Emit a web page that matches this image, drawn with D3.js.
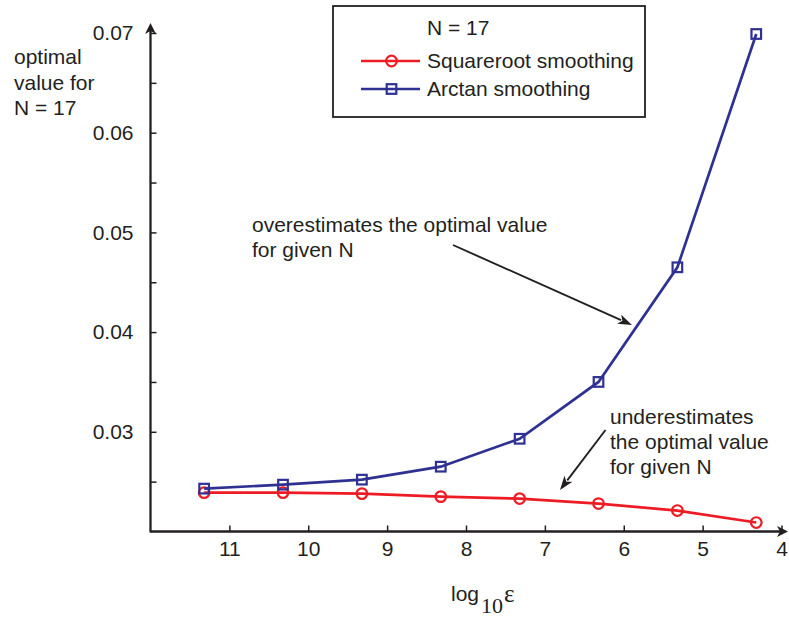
<!DOCTYPE html>
<html>
<head>
<meta charset="utf-8">
<script src="https://cdn.jsdelivr.net/npm/d3@7"></script>
<style>
  html, body { margin: 0; padding: 0; background: #fff; }
  svg { display: block; }
  text { font-family: "Liberation Sans", Arial, Helvetica, sans-serif; fill: #231f20; }
</style>
</head>
<body>
<svg id="chart" width="789" height="620"></svg>
<script>
// ---- data ----
const logEps = [11.32, 10.32, 9.32, 8.32, 7.32, 6.32, 5.32, 4.32];
const squarerootValues = [0.0239, 0.0239, 0.0238, 0.0235, 0.0233, 0.0228, 0.0221, 0.0209];
const arctanValues = [0.0243, 0.0247, 0.0252, 0.0265, 0.0293, 0.0350, 0.0465, 0.0699];
const xTickValues = [11, 10, 9, 8, 7, 6, 5, 4];
const yMajorTicks = [0.03, 0.04, 0.05, 0.06, 0.07];
const yMinorTicks = [0.025, 0.035, 0.045, 0.055, 0.065];
const legendTitle = "N = 17";
const seriesNames = ["Squareroot smoothing", "Arctan smoothing"];
const yLabelLines = ["optimal", "value for", "N = 17"];
const overLines = ["overestimates the optimal value", "for given N"];
const underLines = ["underestimates", "the optimal value", "for given N"];

const RED = "#ed1c24", BLUE = "#2e3192", INK = "#231f20";
const FS = 21;
const svg = d3.select("#chart");

const x = d3.scaleLinear().domain([12, 4]).range([150.5, 781.5]);
const y = d3.scaleLinear().domain([0.02, 0.07]).range([531.5, 33]);

// ---- axes ----
const xAxis = d3.axisBottom(x).tickValues(xTickValues).tickFormat(d3.format("d"))
  .tickSize(-6).tickSizeOuter(0).tickPadding(10);
const gx = svg.append("g").attr("transform", `translate(0,${y(0.02)})`).call(xAxis);
gx.select(".domain").remove();
gx.selectAll(".tick line").attr("stroke", INK).attr("stroke-width", 1.5);
gx.selectAll(".tick text").attr("font-size", FS).attr("fill", INK)
  .attr("font-family", "Liberation Sans, Arial, sans-serif");

const yAxis = d3.axisLeft(y).tickValues(yMajorTicks.concat(yMinorTicks))
  .tickFormat(d => yMajorTicks.includes(d) ? d3.format(".2f")(d) : "")
  .tickSize(-6).tickSizeOuter(0).tickPadding(17);
const gy = svg.append("g").attr("transform", `translate(${x(12)},0)`).call(yAxis);
gy.select(".domain").remove();
gy.selectAll(".tick line").attr("stroke", INK).attr("stroke-width", 1.5);
gy.selectAll(".tick text").attr("font-size", FS).attr("fill", INK)
  .attr("font-family", "Liberation Sans, Arial, sans-serif");

// axis lines with arrowheads
const x0 = x(12), y0 = y(0.02);
const xEnd = 789, yTop = 23;
svg.append("line").attr("x1", x0).attr("y1", y0).attr("x2", xEnd - 4).attr("y2", y0)
  .attr("stroke", INK).attr("stroke-width", 2.3);
svg.append("line").attr("x1", x0).attr("y1", y0 + 1).attr("x2", x0).attr("y2", yTop + 4)
  .attr("stroke", INK).attr("stroke-width", 2.3);
function arrowHead(tx, ty, angle, len, half, notch) {
  const p = `M0,0 L${-len},${-half} L${-notch},0 L${-len},${half} Z`;
  svg.append("path").attr("d", p).attr("fill", INK)
    .attr("transform", `translate(${tx},${ty}) rotate(${angle})`);
}
arrowHead(xEnd - 1, y0, 0, 11, 5.5, 8);
arrowHead(x0, yTop, -90, 11, 5.5, 8);

// ---- series ----
const line = d3.line().x(d => x(d[0])).y(d => y(d[1]));
const sq = logEps.map((v, i) => [v, squarerootValues[i]]);
const at = logEps.map((v, i) => [v, arctanValues[i]]);

svg.append("path").datum(sq).attr("d", line).attr("fill", "none")
  .attr("stroke", RED).attr("stroke-width", 2.7);
svg.selectAll("circle.sq").data(sq).enter().append("circle")
  .attr("cx", d => x(d[0])).attr("cy", d => y(d[1])).attr("r", 5.3)
  .attr("fill", "none").attr("stroke", RED).attr("stroke-width", 2.2);

svg.append("path").datum(at).attr("d", line).attr("fill", "none")
  .attr("stroke", BLUE).attr("stroke-width", 2.7);
svg.selectAll("rect.at").data(at).enter().append("rect")
  .attr("x", d => x(d[0]) - 4.8).attr("y", d => y(d[1]) - 4.8)
  .attr("width", 9.6).attr("height", 9.6)
  .attr("fill", "none").attr("stroke", BLUE).attr("stroke-width", 2.2);

// ---- legend ----
const lg = svg.append("g");
lg.append("rect").attr("x", 333).attr("y", 6).attr("width", 312).attr("height", 111)
  .attr("fill", "#fff").attr("stroke", INK).attr("stroke-width", 1.8);
lg.append("text").attr("x", 427).attr("y", 35).attr("font-size", FS).text(legendTitle);
lg.append("line").attr("x1", 361).attr("x2", 420).attr("y1", 61).attr("y2", 61)
  .attr("stroke", RED).attr("stroke-width", 2.7);
lg.append("circle").attr("cx", 391.5).attr("cy", 61).attr("r", 5.3)
  .attr("fill", "none").attr("stroke", RED).attr("stroke-width", 2.2);
lg.append("text").attr("x", 427).attr("y", 68).attr("font-size", FS).text(seriesNames[0]);
lg.append("line").attr("x1", 361).attr("x2", 420).attr("y1", 89).attr("y2", 89)
  .attr("stroke", BLUE).attr("stroke-width", 2.7);
lg.append("rect").attr("x", 386.7).attr("y", 84.2).attr("width", 9.6).attr("height", 9.6)
  .attr("fill", "none").attr("stroke", BLUE).attr("stroke-width", 2.2);
lg.append("text").attr("x", 427).attr("y", 96).attr("font-size", FS).text(seriesNames[1]);

// ---- y label ----
svg.append("g").selectAll("text").data(yLabelLines).enter().append("text")
  .attr("x", 14).attr("y", (d, i) => 64 + i * 25.5).attr("font-size", FS).text(d => d);

// ---- x label ----
const xl = svg.append("text").attr("x", 451).attr("y", 601);
xl.append("tspan").attr("font-size", FS).text("log");
xl.append("tspan").attr("font-family", "Liberation Serif, Times New Roman, serif")
  .attr("font-size", 22).attr("dx", 2).attr("dy", 12).text("10");
xl.append("tspan").attr("font-family", "Liberation Serif, Times New Roman, serif")
  .attr("font-size", 25).attr("dx", 1).attr("dy", -11).text("ε");

// ---- annotations ----
svg.append("g").selectAll("text").data(overLines).enter().append("text")
  .attr("x", 252).attr("y", (d, i) => 232 + i * 25).attr("font-size", FS).text(d => d);
svg.append("g").selectAll("text").data(underLines).enter().append("text")
  .attr("x", 610).attr("y", (d, i) => 424 + i * 25).attr("font-size", FS).text(d => d);

function annotArrow(x1, y1, x2, y2) {
  const ang = Math.atan2(y2 - y1, x2 - x1);
  const len = 14, back = 2;
  svg.append("line").attr("x1", x1).attr("y1", y1)
    .attr("x2", x2 - Math.cos(ang) * (len - back)).attr("y2", y2 - Math.sin(ang) * (len - back))
    .attr("stroke", INK).attr("stroke-width", 1.9);
  svg.append("path").attr("d", `M0,0 L${-len},${-5} L${-len + 3.5},0 L${-len},${5} Z`)
    .attr("fill", INK)
    .attr("transform", `translate(${x2},${y2}) rotate(${ang * 180 / Math.PI})`);
}
annotArrow(453, 245, 632, 325);
annotArrow(605.5, 430, 560, 490);
</script>
</body>
</html>
